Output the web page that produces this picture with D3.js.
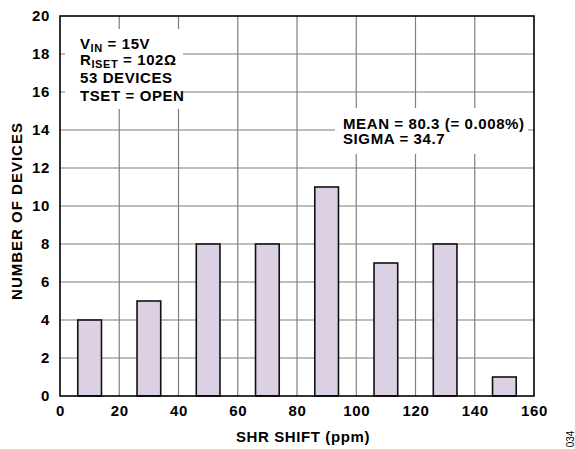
<!DOCTYPE html>
<html>
<head>
<meta charset="utf-8">
<script src="https://cdn.jsdelivr.net/npm/d3@7"></script>
<style>
  html, body { margin: 0; padding: 0; background: #fff; }
  svg text { font-family: "Liberation Sans", Arial, sans-serif; font-weight: bold; fill: #000; }
</style>
</head>
<body>
<svg id="chart" width="575" height="449"></svg>
<script>
// Histogram of SHR shift across devices
const binCenters = [10, 30, 50, 70, 90, 110, 130, 150];
const deviceCounts = [4, 5, 8, 8, 11, 7, 8, 1];
const binHalfWidth = 4;
const xTicks = [0, 20, 40, 60, 80, 100, 120, 140, 160];
const yTicks = [0, 2, 4, 6, 8, 10, 12, 14, 16, 18, 20];
const statLines = ["MEAN = 80.3 (= 0.008%)", "SIGMA = 34.7"];

const svg = d3.select("#chart");
const plotLeft = 60, plotRight = 534, plotTop = 16, plotBottom = 396;
const fontSize = 15, spacing = 0.6;

const x = d3.scaleLinear().domain([0, 160]).range([plotLeft, plotRight]);
const y = d3.scaleLinear().domain([0, 20]).range([plotBottom, plotTop]);

// grid
const grid = svg.append("g").attr("stroke", "#7f7f7f").attr("stroke-width", 1.2);
grid.selectAll("line.v").data(xTicks.slice(1, -1)).join("line")
  .attr("x1", d => x(d)).attr("x2", d => x(d))
  .attr("y1", plotTop).attr("y2", plotBottom);
grid.selectAll("line.h").data(yTicks.slice(1, -1)).join("line")
  .attr("x1", plotLeft).attr("x2", plotRight)
  .attr("y1", d => y(d)).attr("y2", d => y(d));

// bars
svg.append("g").selectAll("rect").data(binCenters).join("rect")
  .attr("x", (d) => x(d - binHalfWidth))
  .attr("width", d => x(d + binHalfWidth) - x(d - binHalfWidth))
  .attr("y", (d, i) => y(deviceCounts[i]))
  .attr("height", (d, i) => y(0) - y(deviceCounts[i]))
  .attr("fill", "#dcd0e4")
  .attr("stroke", "#111")
  .attr("stroke-width", 1.6);

// annotation backgrounds
svg.append("rect").attr("x", 65).attr("y", 29).attr("width", 118).attr("height", 80).attr("fill", "#fff");
svg.append("rect").attr("x", 335).attr("y", 108).attr("width", 193).attr("height", 46).attr("fill", "#fff");

// frame
svg.append("rect").attr("x", plotLeft).attr("y", plotTop)
  .attr("width", plotRight - plotLeft).attr("height", plotBottom - plotTop)
  .attr("fill", "none").attr("stroke", "#000").attr("stroke-width", 1.6);

// axes
const styleTicks = sel => sel.selectAll("text")
  .attr("font-size", fontSize)
  .style("font-family", "Liberation Sans, Arial, sans-serif")
  .style("font-weight", "bold")
  .style("letter-spacing", spacing + "px")
  .attr("fill", "#000");

const xAxis = d3.axisBottom(x).tickValues(xTicks).tickSize(0).tickPadding(9);
svg.append("g").attr("transform", `translate(0,${plotBottom})`).call(xAxis)
  .call(g => g.select(".domain").remove())
  .call(styleTicks);

const yAxis = d3.axisLeft(y).tickValues(yTicks).tickSize(0).tickPadding(10);
svg.append("g").attr("transform", `translate(${plotLeft},0)`).call(yAxis)
  .call(g => g.select(".domain").remove())
  .call(styleTicks);

// axis titles
svg.append("text").attr("x", 303).attr("y", 442).attr("text-anchor", "middle")
  .attr("font-size", fontSize).style("letter-spacing", spacing + "px").text("SHR SHIFT (ppm)");
svg.append("text").attr("transform", "translate(22,211) rotate(-90)")
  .attr("text-anchor", "middle").attr("font-size", fontSize)
  .style("letter-spacing", "1px").text("NUMBER OF DEVICES");

// conditions block
const cond = svg.append("g").attr("font-size", fontSize).style("letter-spacing", spacing + "px");
const t1 = cond.append("text").attr("x", 80).attr("y", 49);
t1.append("tspan").text("V");
t1.append("tspan").attr("font-size", 11).attr("dy", 3).text("IN");
t1.append("tspan").attr("dy", -3).text(" = 15V");
const t2 = cond.append("text").attr("x", 80).attr("y", 64.5);
t2.append("tspan").text("R");
t2.append("tspan").attr("font-size", 11).attr("dy", 3).text("ISET");
t2.append("tspan").attr("dy", -3).text(" = 102Ω");
cond.append("text").attr("x", 80).attr("y", 82.5).text("53 DEVICES");
cond.append("text").attr("x", 80).attr("y", 101).text("TSET = OPEN");

// statistics block
svg.append("g").attr("font-size", fontSize).style("letter-spacing", spacing + "px")
  .selectAll("text").data(statLines).join("text")
  .attr("x", 343).attr("y", (d, i) => 129 + i * 15)
  .text(d => d);

// figure number
svg.append("text").attr("transform", "translate(574,439) rotate(-90)")
  .attr("text-anchor", "middle").attr("font-size", 10).style("font-weight", "normal")
  .attr("fill", "#666").text("034");
</script>
</body>
</html>
